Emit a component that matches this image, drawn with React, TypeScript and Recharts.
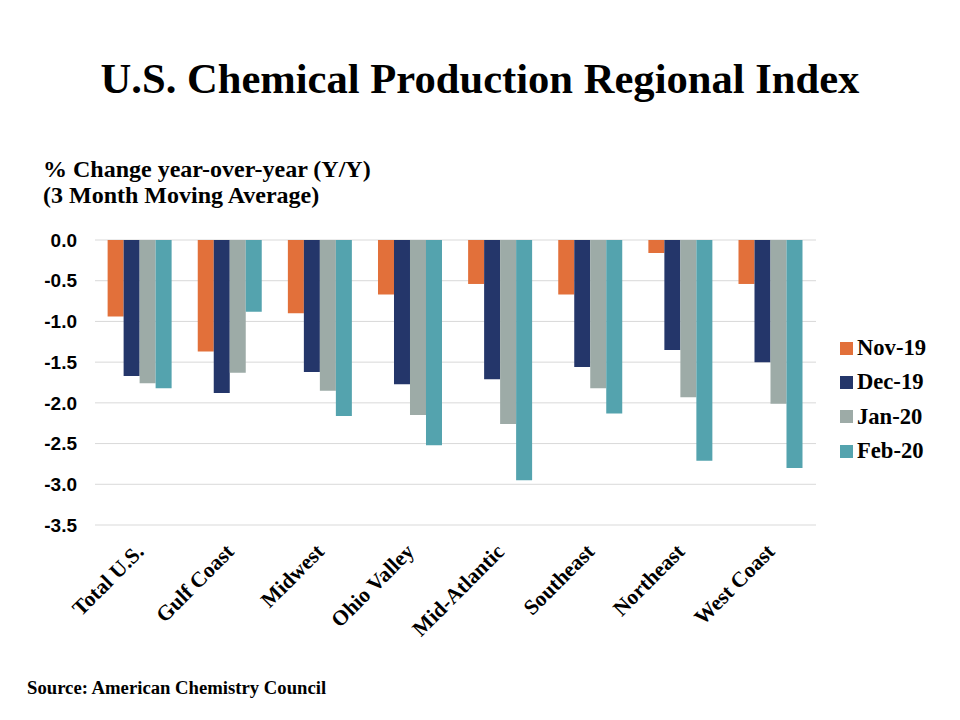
import { BarChart, Bar, XAxis, YAxis, CartesianGrid } from "recharts";

const regions = [
  "Total U.S.",
  "Gulf Coast",
  "Midwest",
  "Ohio Valley",
  "Mid-Atlantic",
  "Southeast",
  "Northeast",
  "West Coast",
];
const nov19 = [-0.94, -1.37, -0.9, -0.67, -0.54, -0.67, -0.16, -0.54];
const dec19 = [-1.67, -1.88, -1.62, -1.77, -1.71, -1.56, -1.35, -1.5];
const jan20 = [-1.76, -1.63, -1.85, -2.15, -2.26, -1.82, -1.93, -2.01];
const feb20 = [-1.82, -0.88, -2.16, -2.52, -2.95, -2.13, -2.71, -2.8];
const yTicks = [0, -0.5, -1, -1.5, -2, -2.5, -3, -3.5];

const series = [
  { key: "nov19", name: "Nov-19", color: "#E2703A" },
  { key: "dec19", name: "Dec-19", color: "#24366A" },
  { key: "jan20", name: "Jan-20", color: "#9DABA7" },
  { key: "feb20", name: "Feb-20", color: "#54A3AE" },
];

const data = regions.map((region, i) => ({
  region,
  nov19: nov19[i],
  dec19: dec19[i],
  jan20: jan20[i],
  feb20: feb20[i],
}));

const serif = '"Liberation Serif", "Times New Roman", serif';
const sans = '"Liberation Sans", Arial, sans-serif';

function RegionTick(props: any) {
  const { x, y, payload } = props;
  return (
    <text
      transform={`translate(${x + 5}, ${y + 20}) rotate(-45)`}
      textAnchor="end"
      fontFamily={serif}
      fontWeight="bold"
      fontSize={21.5}
      fill="#000"
    >
      {payload.value}
    </text>
  );
}

export default function App() {
  return (
    <div
      style={{
        position: "absolute",
        left: 0,
        top: 0,
        width: 960,
        height: 720,
        background: "#fff",
        fontFamily: serif,
        color: "#000",
      }}
    >
      <div
        style={{
          position: "absolute",
          top: 54,
          left: 0,
          width: 960,
          textAlign: "center",
          fontSize: 42.6,
          fontWeight: "bold",
          lineHeight: "50px",
        }}
      >
        U.S. Chemical Production Regional Index
      </div>
      <div
        style={{
          position: "absolute",
          top: 156,
          left: 43,
          fontSize: 24,
          fontWeight: "bold",
          lineHeight: "26px",
        }}
      >
        % Change year-over-year (Y/Y)
        <br />
        (3 Month Moving Average)
      </div>

      <BarChart
        width={960}
        height={720}
        data={data}
        margin={{ top: 240, right: 144, left: 35, bottom: 95 }}
        barCategoryGap="14%"
        barGap={0}
      >
        <CartesianGrid vertical={false} stroke="#D9D9D9" />
        <XAxis
          dataKey="region"
          height={100}
          axisLine={false}
          tickLine={false}
          interval={0}
          tick={<RegionTick />}
        />
        <YAxis
          width={60}
          domain={[-3.5, 0]}
          ticks={yTicks}
          axisLine={false}
          tickLine={false}
          tickMargin={12}
          tickFormatter={(v: number) => v.toFixed(1)}
          tick={{ fontFamily: sans, fontWeight: "bold", fontSize: 19, fill: "#000" }}
        />
        {series.map((s) => (
          <Bar
            key={s.key}
            dataKey={s.key}
            name={s.name}
            fill={s.color}
            isAnimationActive={false}
          />
        ))}
      </BarChart>

      <div style={{ position: "absolute", left: 840, top: 331 }}>
        {series.map((s) => (
          <div
            key={s.key}
            style={{
              display: "flex",
              alignItems: "center",
              height: 34.3,
              fontSize: 22.6,
              fontWeight: "bold",
            }}
          >
            <span
              style={{
                display: "inline-block",
                width: 13,
                height: 13,
                background: s.color,
                marginRight: 4,
              }}
            />
            {s.name}
          </div>
        ))}
      </div>

      <div
        style={{
          position: "absolute",
          top: 677,
          left: 27,
          fontSize: 18.7,
          fontWeight: "bold",
          lineHeight: "22px",
        }}
      >
        Source: American Chemistry Council
      </div>
    </div>
  );
}
